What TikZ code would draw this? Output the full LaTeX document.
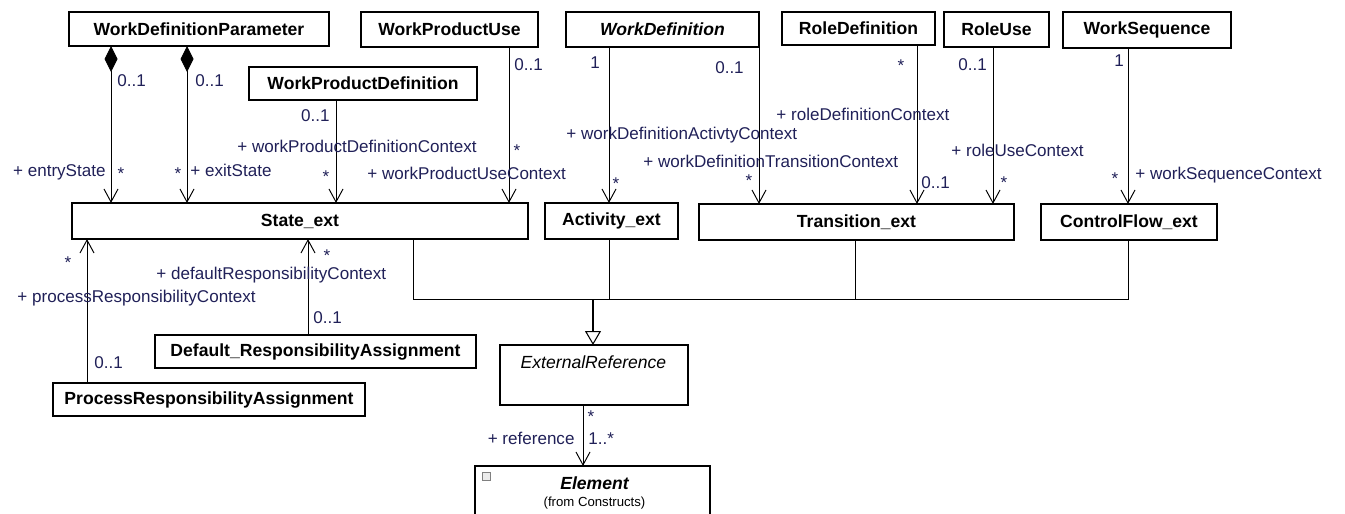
\documentclass[tikz,border=0pt]{standalone}
\usepackage{fontspec}
\setmainfont{Liberation Sans}
\usepackage{tikz}
\usetikzlibrary{arrows.meta}
\usepackage{xcolor}
\definecolor{rolecol}{RGB}{32,32,88}
\tikzset{
  >={Straight Barb[length=2.6mm,width=2.8mm]},
}

\begin{document}
\begin{tikzpicture}[
  line width=0.55pt,
  every node/.style={font=\fontsize{10}{12}\selectfont},
  cls/.style={draw,line width=0.7pt,inner sep=0pt,outer sep=0pt,
              font=\fontsize{10}{12}\selectfont\bfseries},
  abs/.style={cls,font=\fontsize{10}{12}\selectfont\bfseries\itshape},
  lab/.style={text=rolecol,inner sep=0pt,text height=1.6ex,text depth=0.3ex,
              font=\fontsize{9.7}{11}\selectfont},
  nav/.style={->},
  comp/.style={{Diamond[length=5.2mm,width=2.6mm]}->},
  gen/.style={-{Triangle[open,length=2.8mm,width=3.2mm,line width=0.6pt]},
              line width=1.3pt}
]
\useasboundingbox (0,0) rectangle (26.9,-10.28);

\node[cls,minimum width=5.2cm,minimum height=0.68cm] (wdp) at (3.98,-0.58) {WorkDefinitionParameter};
\node[cls,minimum width=3.54cm,minimum height=0.70cm] (wpu) at (8.99,-0.59) {WorkProductUse};
\node[abs,minimum width=3.86cm,minimum height=0.70cm] (wd) at (13.25,-0.59) {WorkDefinition};
\node[cls,minimum width=3.06cm,minimum height=0.66cm] (rd) at (17.17,-0.57) {RoleDefinition};
\node[cls,minimum width=2.10cm,minimum height=0.70cm] (ru) at (19.93,-0.59) {RoleUse};
\node[cls,minimum width=3.36cm,minimum height=0.72cm] (ws) at (22.94,-0.60) {WorkSequence};
\node[cls,minimum width=4.56cm,minimum height=0.66cm] (wpd) at (7.26,-1.67) {WorkProductDefinition};

\node[cls,minimum width=9.12cm,minimum height=0.72cm] (se) at (6.00,-4.42) {State\_ext};
\node[cls,minimum width=2.66cm,minimum height=0.72cm] (ae) at (12.23,-4.42) {Activity\_ext};
\node[cls,minimum width=6.30cm,minimum height=0.72cm] (te) at (17.13,-4.44) {Transition\_ext};
\node[cls,minimum width=3.52cm,minimum height=0.72cm] (ce) at (22.58,-4.44) {ControlFlow\_ext};

\node[cls,minimum width=6.42cm,minimum height=0.66cm] (dra) at (6.31,-7.03) {Default\_ResponsibilityAssignment};
\node[cls,minimum width=6.24cm,minimum height=0.66cm] (pra) at (4.18,-7.99) {ProcessResponsibilityAssignment};

\node[cls,minimum width=3.76cm,minimum height=1.20cm] (er) at (11.88,-7.50) {};
\node[font=\fontsize{10}{12}\selectfont\itshape] (ername) at (11.87,-7.24) {ExternalReference};
\node[cls,minimum width=4.70cm,minimum height=1.50cm] (el) at (11.85,-10.07) {};
\node[font=\fontsize{10}{12}\selectfont\bfseries\itshape] (elname) at (11.89,-9.66) {Element};
\node[font=\fontsize{7.5}{9}\selectfont] (elfrom) at (11.89,-10.06) {(from Constructs)};
\node[draw=gray,fill=gray!15,line width=0.4pt,minimum size=1.5mm,inner sep=0pt] (elicon) at (9.73,-9.53) {};

\coordinate (xentry) at (2.22,0);
\coordinate (xexit) at (3.74,0);
\coordinate (xwpd) at (6.72,0);
\coordinate (xwpu) at (10.18,0);
\coordinate (xact) at (12.18,0);
\coordinate (xrd) at (18.34,0);
\coordinate (xru) at (19.86,0);
\coordinate (xws) at (22.56,0);
\coordinate (xpra) at (1.74,0);
\coordinate (xdra) at (6.16,0);
\coordinate (xse) at (8.26,0);
\coordinate (xte) at (17.10,0);
\coordinate (xref) at (11.66,0);
\coordinate (bus) at (11.86,-5.98);

\draw[comp] (wdp.south -| xentry) -- (se.north -| xentry);
\draw[comp] (wdp.south -| xexit) -- (se.north -| xexit);
\draw[nav] (wpd.south -| xwpd) -- (se.north -| xwpd);
\draw[nav] (wpu.south -| xwpu) -- (se.north -| xwpu);
\draw[nav] (wd.south -| xact) -- (ae.north -| xact);
\draw[nav] (wd.south east) -- (wd.south east |- te.north);
\draw[nav] (rd.south -| xrd) -- (te.north -| xrd);
\draw[nav] (ru.south -| xru) -- (te.north -| xru);
\draw[nav] (ws.south -| xws) -- (ce.north -| xws);
\draw[nav] (pra.north -| xpra) -- (se.south -| xpra);
\draw[nav] (dra.north -| xdra) -- (se.south -| xdra);

\draw (se.south -| xse) |- (bus);
\draw (ae.south -| xact) |- (bus);
\draw (te.south -| xte) |- (bus);
\draw (ce.south -| xws) |- (bus);
\draw[gen] (bus) -- (er.north -| bus);
\draw[nav] (er.south -| xref) -- (el.north -| xref);

\node[lab,anchor=west] (m1) at (2.34,-1.60) {0..1};
\node[lab,anchor=west] (m2) at (3.90,-1.60) {0..1};
\node[lab,anchor=east] (entry) at (2.12,-3.40) {+ entryState};
\node[lab] (m3) at (2.42,-3.46) {*};
\node[lab] (m4) at (3.56,-3.46) {*};
\node[lab,anchor=west] (exit) at (3.80,-3.40) {+ exitState};

\node[lab,anchor=east] (m5) at (6.60,-2.30) {0..1};
\node[lab,anchor=west] (wpdctx) at (4.74,-2.92) {+ workProductDefinitionContext};
\node[lab] (m6) at (6.52,-3.52) {*};
\node[lab,anchor=west] (m7) at (10.28,-1.28) {0..1};
\node[lab] (m8) at (10.34,-3.00) {*};
\node[lab,anchor=west] (wpuctx) at (7.34,-3.46) {+ workProductUseContext};

\node[lab] (m9) at (11.90,-1.24) {1};
\node[lab] (m10) at (14.59,-1.34) {0..1};
\node[lab,anchor=west] (actctx) at (11.32,-2.66) {+ workDefinitionActivtyContext};
\node[lab] (m11) at (12.32,-3.66) {*};
\node[lab,anchor=west] (trctx) at (12.86,-3.22) {+ workDefinitionTransitionContext};
\node[lab] (m12) at (14.98,-3.60) {*};

\node[lab] (m13) at (18.02,-1.30) {*};
\node[lab,anchor=west] (rdctx) at (15.52,-2.28) {+ roleDefinitionContext};
\node[lab,anchor=west] (m14) at (18.42,-3.64) {0..1};
\node[lab,anchor=west] (m15) at (19.16,-1.28) {0..1};
\node[lab,anchor=west] (ructx) at (19.02,-3.00) {+ roleUseContext};
\node[lab] (m16) at (20.08,-3.64) {*};

\node[lab] (m17) at (22.38,-1.20) {1};
\node[lab] (m18) at (22.30,-3.56) {*};
\node[lab,anchor=west] (wsctx) at (22.70,-3.46) {+ workSequenceContext};

\node[lab] (m19) at (1.36,-5.24) {*};
\node[lab,anchor=west] (prctx) at (0.34,-5.92) {+ processResponsibilityContext};
\node[lab,anchor=west] (m20) at (1.88,-7.24) {0..1};
\node[lab] (m21) at (6.54,-5.10) {*};
\node[lab,anchor=west] (drctx) at (3.12,-5.47) {+ defaultResponsibilityContext};
\node[lab,anchor=west] (m22) at (6.26,-6.34) {0..1};

\node[lab] (m23) at (11.82,-8.32) {*};
\node[lab,anchor=east] (refname) at (11.50,-8.76) {+ reference};
\node[lab,anchor=west] (m24) at (11.76,-8.76) {1..*};

\end{tikzpicture}
\end{document}
